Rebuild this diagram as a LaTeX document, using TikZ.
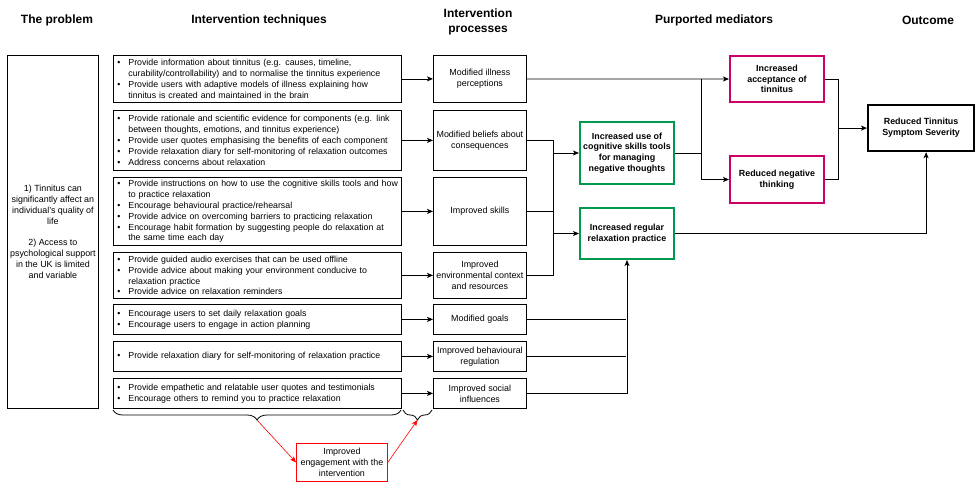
\documentclass[tikz,border=0pt]{standalone}
\usepackage{fontspec}
\setmainfont{Liberation Sans}
\usetikzlibrary{arrows.meta,decorations.pathreplacing}
\definecolor{medgreen}{RGB}{0,153,77}
\definecolor{medpink}{RGB}{204,0,102}
\newcommand{\bul}{\makebox[14pt][l]{\hspace{3pt}\textbullet}}
\newcommand{\cnt}{\hspace*{14pt}}
\tikzset{
  head/.style={font=\fontsize{12}{15}\selectfont\bfseries,align=center},
  tech/.style={draw,anchor=north west,text width=286pt,inner xsep=1pt,inner ysep=0pt,align=left,font=\fontsize{8.8}{10.9}\selectfont},
  proc/.style={draw,anchor=north west,minimum width=93pt,inner sep=0pt,align=center,font=\fontsize{8.9}{10.9}\selectfont},
  med/.style={draw=medgreen,line width=2pt,anchor=north west,minimum width=94pt,inner sep=0pt,align=center,font=\fontsize{8.9}{10.7}\selectfont\bfseries},
  medp/.style={med,draw=medpink},
  >={Stealth[length=6pt,width=5pt,inset=1.5pt]}
}
\begin{document}
\begin{tikzpicture}[x=1pt,y=-1pt,line width=0.8pt]
\useasboundingbox (0,0) rectangle (976,482);
% column headings
\node[head] (h1) at (57,20) {The problem};\node[head] (h2) at (259,20) {Intervention techniques};
\node[head] (h3) at (478,22) {Intervention\\processes};\node[head] (h4) at (714,20) {Purported mediators};
\node[head] (h5) at (928,20) {Outcome};
% the problem
\node[draw,anchor=north west,minimum width=91pt,minimum height=353pt,inner sep=0pt,align=center,font=\fontsize{8.9}{10.9}\selectfont] (prob) at (7,55)
  {1) Tinnitus can\\significantly affect an\\individual's quality of\\life\\[10.9pt]2) Access to\\psychological support\\in the UK is limited\\and variable};
% techniques
\node[tech,minimum height=47pt] (t1) at (113,55) {\bul Provide information about tinnitus (e.g. causes, timeline,\\\cnt curability/controllability) and to normalise the tinnitus experience\\
  \bul Provide users with adaptive models of illness explaining how\\\cnt tinnitus is created and maintained in the brain};
\node[tech,minimum height=60pt] (t2) at (113,110) {\bul Provide rationale and scientific evidence for components (e.g. link\\\cnt between thoughts, emotions, and tinnitus experience)\\
  \bul Provide user quotes emphasising the benefits of each component\\
  \bul Provide relaxation diary for self-monitoring of relaxation outcomes\\
  \bul Address concerns about relaxation};
\node[tech,minimum height=68pt] (t3) at (113,177) {\bul Provide instructions on how to use the cognitive skills tools and how\\\cnt to practice relaxation\\
  \bul Encourage behavioural practice/rehearsal\\
  \bul Provide advice on overcoming barriers to practicing relaxation\\
  \bul Encourage habit formation by suggesting people do relaxation at\\\cnt the same time each day};
\node[tech,minimum height=46pt] (t4) at (113,252) {\bul Provide guided audio exercises that can be used offline\\
  \bul Provide advice about making your environment conducive to\\\cnt relaxation practice\\
  \bul Provide advice on relaxation reminders};
\node[tech,minimum height=30pt] (t5) at (113,304) {\bul Encourage users to set daily relaxation goals\\
  \bul Encourage users to engage in action planning};
\node[tech,minimum height=30pt] (t6) at (113,341) {\bul Provide relaxation diary for self-monitoring of relaxation practice};
\node[tech,minimum height=30pt] (t7) at (113,378) {\bul Provide empathetic and relatable user quotes and testimonials\\
  \bul Encourage others to remind you to practice relaxation};
% processes
\node[proc,minimum height=47pt] (p1) at (433,55) {Modified illness\\perceptions};
\node[proc,minimum height=60pt] (p2) at (433,110) {Modified beliefs about\\consequences};
\node[proc,minimum height=68pt] (p3) at (433,177) {Improved skills};
\node[proc,minimum height=46pt] (p4) at (433,252) {Improved\\environmental context\\and resources};
\node[proc,minimum height=30pt] (p5) at (433,304) {Modified goals};
\node[proc,minimum height=30pt] (p6) at (433,341) {Improved behavioural\\regulation};
\node[proc,minimum height=30pt] (p7) at (433,378) {Improved social\\influences};
% mediators and outcome
\node[med,minimum height=62pt] (m1) at (579,121) {Increased use of\\cognitive skills tools\\for managing\\negative thoughts};
\node[med,minimum height=51pt] (m2) at (579,207) {Increased regular\\relaxation practice};
\node[medp,minimum height=46pt] (a1) at (729,55) {Increased\\acceptance of\\tinnitus};
\node[medp,minimum height=47pt] (a2) at (729,155) {Reduced negative\\thinking};
\node[draw,line width=2.2pt,anchor=north west,minimum width=106pt,minimum height=46pt,inner sep=0pt,align=center,font=\fontsize{8.9}{10.9}\selectfont\bfseries] (out) at (867,104) {Reduced Tinnitus\\Symptom Severity};
\node[draw=red,anchor=north west,minimum width=91pt,minimum height=38pt,inner sep=0pt,align=center,font=\fontsize{8.9}{10.9}\selectfont] (eng) at (296,443) {Improved\\engagement with the\\intervention};
% techniques to processes
\foreach \i in {1,...,7}{\draw[->] (t\i.east) -- (t\i.east -| p\i.west);}
% processes to mediators
\coordinate (bx) at (553,0);\coordinate (gx) at (626,0);\coordinate (cx) at (701,0);\coordinate (dx) at (838,0);
\draw (p2.east) -| (bx |- p4.east) -- (p4.east);\draw (p3.east) -- (p3.east -| bx);
\draw[->] (bx |- m1.west) -- (m1.west);\draw[->] (bx |- m2.west) -- (m2.west);
\draw[->] (p7.east) -| (m2.south);\draw (p5.east) -- (p5.east -| gx);\draw (p6.east) -- (p6.east -| gx);
\draw[->] (p1.east) -- (a1.west);
\draw (m1.east) -- (m1.east -| cx);\draw[->] (cx |- a1.west) |- (a2.west);
\draw (a1.east) -| (dx |- a2.east) -- (a2.east);\draw[->] (dx |- out.west) -- (out.west);
\draw[->] (m2.east) -| ([xshift=5pt]out.south);
% braces and engagement
\draw[decorate,decoration={brace,mirror,amplitude=10pt}] (113,410) -- (401,410) coordinate[pos=.5] (bm1);
\draw[decorate,decoration={brace,mirror,amplitude=10pt}] (403,410) -- (432,410) coordinate[pos=.5] (bm2);
\coordinate (bt1) at ([yshift=-10pt]bm1);\coordinate (bt2) at ([yshift=-10pt]bm2);
\draw[->,red,line width=0.6pt] (bt1) -- (eng.west);\draw[->,red,line width=0.6pt] (eng.east) -- (bt2);
\end{tikzpicture}
\end{document}
